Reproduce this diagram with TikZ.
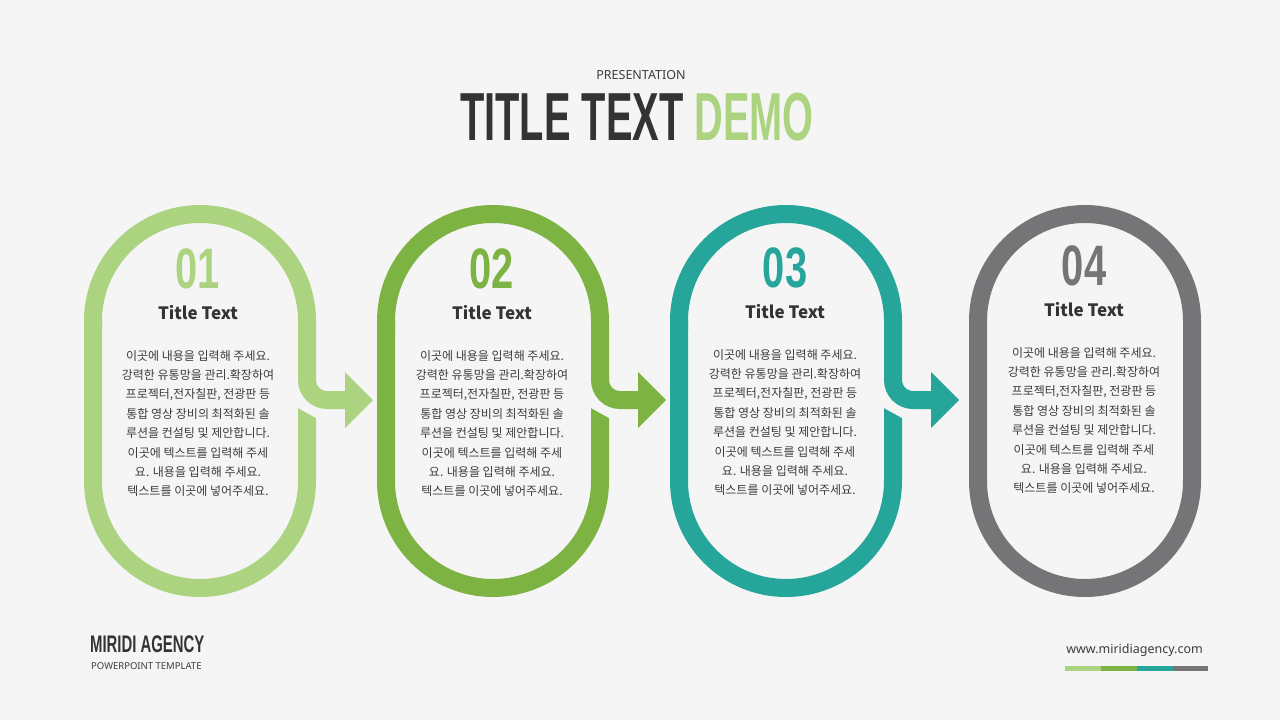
\documentclass[tikz,border=0pt]{standalone}
\usepackage{fontspec}
\setmainfont{Noto Sans}
\newfontfamily\krfont{Noto Sans CJK KR}
\newfontfamily\condfont{Liberation Sans}
\definecolor{lg}{RGB}{172,212,128}
\definecolor{mg}{RGB}{124,179,66}
\definecolor{tl}{RGB}{38,166,154}
\definecolor{gr}{RGB}{117,116,118}
\definecolor{dark}{RGB}{51,51,51}
\definecolor{txt}{RGB}{60,60,60}
\definecolor{bg}{RGB}{245,245,246}
\begin{document}
\begin{tikzpicture}[x=1pt,y=-1pt,
  ring/.style={line width=18pt},
  numtxt/.style={anchor=base,inner sep=0pt,font=\fontsize{57}{57}\condfont\bfseries},
  ttltxt/.style={anchor=base,inner sep=0pt,text=dark,font=\fontsize{17}{18}\krfont\bfseries},
  bodytxt/.style={anchor=base,inner sep=0pt,text=txt,font=\fontsize{12}{12}\krfont}]
\fill[bg] (0,0) rectangle (1280,720);
\useasboundingbox (0,0) rectangle (1280,720);

% pills with arrows
\foreach \cx/\col in {200/lg,493/mg,786/tl} {
  \draw[ring,\col] ({\cx+107},400) -- ({\cx+107},481) arc[start angle=0,end angle=180,radius=107] -- ({\cx-107},321);
  \fill[bg] ({\cx+94},390) -- ({\cx+120},390) -- ({\cx+120},420.2) -- ({\cx+94},405.8) -- cycle;
  \draw[ring,\col] ({\cx-107},330) -- ({\cx-107},321) arc[start angle=180,end angle=360,radius=107] -- ({\cx+107},380) arc[start angle=180,end angle=90,radius=20] -- ({\cx+147},400);
  \fill[\col] ({\cx+145},372) -- ({\cx+173},400) -- ({\cx+145},428) -- cycle;
}
% last pill
\draw[ring,gr] (1192,321) -- (1192,481) arc[start angle=0,end angle=180,radius=107] -- (978,321) arc[start angle=180,end angle=360,radius=107] -- cycle;

% numbers, titles, body texts
\foreach \cx/\dy/\col/\n [count=\k] in {198/0/lg/01,492/0/mg/02,785/-1/tl/03,1084/-3/gr/04} {
  \node[numtxt,text=\col] (num\k) at (\cx,{288+\dy}) {\scalebox{0.7}[1]{\n}};
  \node[ttltxt] (ttl\k) at (\cx,{319+\dy}) {Title Text};
  \foreach \t [count=\i] in {이곳에 내용을 입력해 주세요.,강력한 유통망을 관리.확장하여,{프로젝터,전자칠판, 전광판 등},통합 영상 장비의 최적화된 솔,루션을 컨설팅 및 제안합니다.,이곳에 텍스트를 입력해 주세,요. 내용을 입력해 주세요.,텍스트를 이곳에 넣어주세요.} {
    \node[bodytxt] (body\k-\i) at (\cx,{360+\dy+(\i-1)*19.4}) {\t};
  }
}

% header
\node[anchor=base,inner sep=0pt,text=txt,font=\fontsize{12.5}{13}\selectfont] (pres) at (641,79) {PRESENTATION};
\node[anchor=base,inner sep=0pt,font=\fontsize{68}{68}\condfont\bfseries] (title) at (637,140) {\scalebox{0.585}[1]{\textcolor{dark}{TITLE TEXT} \textcolor{lg}{DEMO}}};

% footer
\node[anchor=base west,inner sep=0pt,text=dark,font=\fontsize{24}{24}\condfont\bfseries] (agency) at (90,652) {\scalebox{0.62}[1]{MIRIDI AGENCY}};
\node[anchor=base west,inner sep=0pt,text=txt,font=\fontsize{9.5}{10}\selectfont] (tmpl) at (91,669) {POWERPOINT TEMPLATE};
\node[anchor=base east,inner sep=0pt,text=txt,font=\fontsize{12.5}{13}\selectfont] (url) at (1203,653) {www.miridiagency.com};
\fill[lg] (1065,666) rectangle (1101,671);
\fill[mg] (1101,666) rectangle (1137,671);
\fill[tl] (1137,666) rectangle (1173,671);
\fill[gr] (1173,666) rectangle (1208,671);
\end{tikzpicture}
\end{document}
